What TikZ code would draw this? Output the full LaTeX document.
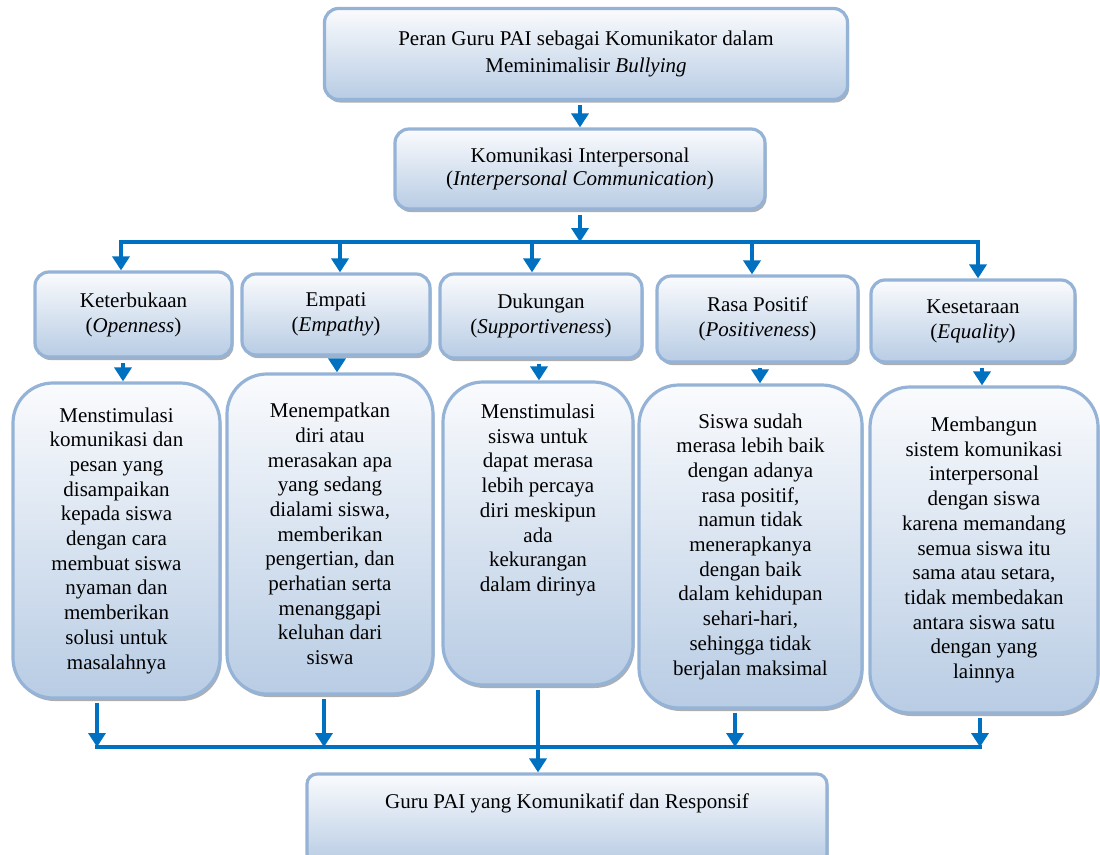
\documentclass[tikz,border=0pt]{standalone}
\usepackage{fontspec}
\setmainfont{Liberation Serif}
\usetikzlibrary{arrows.meta,shadows}
\definecolor{boxline}{RGB}{149,179,215}
\definecolor{boxtop}{RGB}{250,251,253}
\definecolor{boxbot}{RGB}{184,204,228}
\definecolor{arrblue}{RGB}{0,112,192}
\begin{document}
\begin{tikzpicture}[x=1pt,y=-1pt,
  box/.style={shape=rectangle,draw=boxline,line width=3.2pt,top color=boxtop,bottom color=boxbot,
    drop shadow={shadow xshift=1.5pt,shadow yshift=-3pt,fill=black!45,opacity=.7},
    align=center,inner sep=0pt,font=\fontsize{21}{25}\selectfont},
  aspek/.style={box,rounded corners=14pt},
  uraian/.style={box,rounded corners=40pt,font=\fontsize{21}{24.7}\selectfont},
  line/.style={draw=arrblue,line width=3.5pt,line cap=rect},
  arr/.style={draw=arrblue,line width=3.5pt,-{Triangle[width=17pt,length=14pt]}}]
\useasboundingbox (0,0) rectangle (1100,854);

\node[aspek,minimum width=523pt,minimum height=91pt,font=\fontsize{21}{27}\selectfont] (T) at (586,54) {Peran Guru PAI sebagai Komunikator dalam\\ Meminimalisir \textit{Bullying}};
\node[aspek,minimum width=370pt,minimum height=80pt,font=\fontsize{21}{23}\selectfont] (K) at (580,169) {Komunikasi Interpersonal\\ (\textit{Interpersonal Communication})};

\node[aspek,minimum width=197pt,minimum height=85pt] (O) at (133.5,314.5) {Keterbukaan\\ (\textit{Openness})};
\node[aspek,minimum width=188pt,minimum height=81pt] (E) at (336,314.5) {Empati\\ (\textit{Empathy})};
\node[aspek,minimum width=202pt,minimum height=84pt] (S) at (541,316) {Dukungan\\ (\textit{Supportiveness})};
\node[aspek,minimum width=201pt,minimum height=86pt] (P) at (757.5,319) {Rasa Positif\\ (\textit{Positiveness})};
\node[aspek,minimum width=204pt,minimum height=82pt] (Q) at (973,321) {Kesetaraan\\ (\textit{Equality})};

\node[uraian,minimum width=207pt,minimum height=315pt] (O1) at (116.5,540.5) {Menstimulasi\\ komunikasi dan\\ pesan yang\\ disampaikan\\ kepada siswa\\ dengan cara\\ membuat siswa\\ nyaman dan\\ memberikan\\ solusi untuk\\ masalahnya};
\node[uraian,minimum width=206pt,minimum height=320pt] (E1) at (330,534) {Menempatkan\\ diri atau\\ merasakan apa\\ yang sedang\\ dialami siswa,\\ memberikan\\ pengertian, dan\\ perhatian serta\\ menanggapi\\ keluhan dari\\ siswa};
\node[uraian,minimum width=190pt,minimum height=303pt] (S1) at (538,533.5) {\parbox[c][259pt][t]{185pt}{\centering Menstimulasi\\ siswa untuk\\ dapat merasa\\ lebih percaya\\ diri meskipun\\ ada\\ kekurangan\\ dalam dirinya}};
\node[uraian,minimum width=223pt,minimum height=323pt] (P1) at (750.5,546.5) {Siswa sudah\\ merasa lebih baik\\ dengan adanya\\ rasa positif,\\ namun tidak\\ menerapkanya\\ dengan baik\\ dalam kehidupan\\ sehari-hari,\\ sehingga tidak\\ berjalan maksimal};
\node[uraian,minimum width=228pt,minimum height=326pt] (Q1) at (984,550) {Membangun\\ sistem komunikasi\\ interpersonal\\ dengan siswa\\ karena memandang\\ semua siswa itu\\ sama atau setara,\\ tidak membedakan\\ antara siswa satu\\ dengan yang\\ lainnya};

\node[box,rounded corners=10pt,minimum width=520pt,minimum height=90pt] (G) at (567,819) {\parbox[c][50pt][t]{510pt}{\centering Guru PAI yang Komunikatif dan Responsif}};

\coordinate (bus) at (580,242);
\coordinate (b1) at (121,242);
\coordinate (b2) at (340,242);
\coordinate (b3) at (532,242);
\coordinate (b4) at (752,242);
\coordinate (b5) at (978,242);
\coordinate (c1) at (97,747);
\coordinate (c2) at (324,747);
\coordinate (c4) at (735,747);
\coordinate (c5) at (980,747);

\draw[arr] ([yshift=-4pt]K.north |- T.south) -- (K.north);
\draw[arr] ([yshift=-4pt]K.south) -- (bus);
\draw[line] (b1) -- (b5);
\foreach \b/\n in {b1/O,b2/E,b3/S,b4/P,b5/Q}
  \draw[arr] (\b) -- (\b |- \n.north);
\foreach \x/\a/\n in {123/O/O1,337/E/E1,539/S/S1,760/P/P1,982/Q/Q1}
  \draw[arr] ([yshift=-4pt]\x,0 |- \a.south) -- (\x,0 |- \n.north);
\draw[line] (c1) -- (c5);
\foreach \c/\a in {c1/O1,c2/E1,c4/P1,c5/Q1}
  \draw[arr] ([yshift=-3pt]\c |- \a.south) -- (\c);
\draw[arr] ([yshift=-3pt]S1.south) -- (S1.south |- G.north);
\end{tikzpicture}
\end{document}
